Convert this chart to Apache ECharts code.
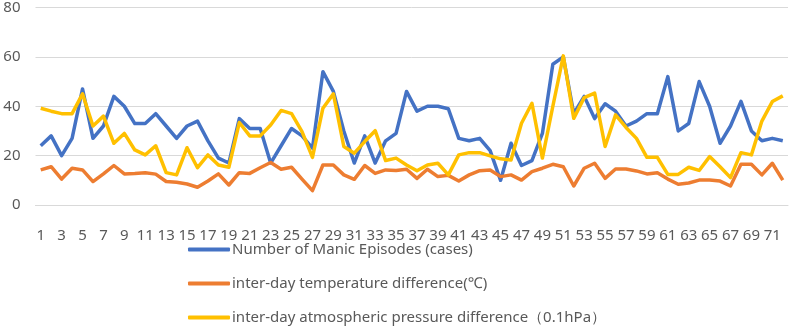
<!DOCTYPE html>
<html>
<head>
<meta charset="utf-8">
<script src="https://cdn.jsdelivr.net/npm/echarts@6/dist/echarts.min.js"></script>
<style>
  html, body { margin: 0; padding: 0; background: #fff; }
  #chart { width: 790px; height: 326px; }
</style>
</head>
<body>
<div id="chart"></div>
<script>
var days = [];
for (var d = 1; d <= 72; d++) days.push(String(d));

var manic = [24, 28, 20, 27, 47, 27, 32, 44, 40, 33, 33, 37, 32, 27, 32, 34, 26, 19, 17, 35,
  31, 31, 17, 24, 31, 28, 23, 54, 46, 30, 17, 28, 17, 26, 29, 46, 38, 40, 40, 39,
  27, 26, 27, 22, 10, 25, 16, 18, 29, 57, 60, 37, 44, 35, 41, 38, 32, 34, 37, 37,
  52, 30, 33, 50, 40, 25, 32, 42, 30, 26, 27, 26];

var tempDiff = [14.2, 15.5, 10.5, 14.9, 14.2, 9.5, 12.6, 16, 12.6, 12.8, 13.1, 12.5, 9.5, 9.2, 8.5, 7.2, 9.7, 12.6, 8.1, 13.1,
  12.8, 15.1, 17.2, 14.5, 15.3, 10.5, 5.8, 16.2, 16.2, 12.2, 10.4, 16, 12.8, 14.2, 14, 14.5, 10.8, 14.5, 11.5, 12,
  9.7, 12.2, 13.9, 14.2, 11.5, 12.2, 10.1, 13.5, 14.9, 16.5, 15.5, 7.7, 14.9, 16.9, 10.8, 14.6, 14.6, 13.8, 12.6, 13.1,
  10.5, 8.4, 8.9, 10.1, 10.1, 9.7, 7.7, 16.5, 16.5, 12.2, 16.9, 10.1];

var pressDiff = [39.2, 38, 37, 37, 45, 32, 36, 25, 29, 22.3, 20.3, 24, 13.1, 12.2, 23.2, 15.1, 20.3, 16.2, 15.3, 33.4,
  28, 28, 32.4, 38.3, 37, 29.7, 19.3, 39.2, 45, 23.7, 21, 25.7, 30.1, 18, 19, 16.2, 13.9, 16.2, 16.9, 12.2,
  20.3, 21.2, 21.2, 19.9, 18.7, 18.2, 33.1, 41.2, 19, 40, 60.4, 35.1, 43.5, 45.3, 23.7, 36.5, 31.4, 27, 19.3, 19.3,
  12.4, 12.4, 15.3, 14, 19.6, 15.5, 11.1, 21.2, 20.3, 34, 41.9, 44.2];

var names = [
  'Number of Manic Episodes (cases)',
  'inter-day temperature difference(℃)',
  'inter-day atmospheric pressure difference（0.1hPa）'
];
var colors = ['#4472C4', '#ED7D31', '#FFC000'];

var chart = echarts.init(document.getElementById('chart'));

function line(name, data, color) {
  return {
    name: name,
    type: 'line',
    data: data,
    showSymbol: false,
    symbol: 'none',
    lineStyle: { color: color, width: 3.5, join: 'round' },
    itemStyle: { color: color }
  };
}

chart.setOption({
  animation: false,
  textStyle: { fontFamily: 'Noto Sans, sans-serif' },
  grid: { left: 35.5, right: 2, top: 7.5, bottom: 121 },
  legend: {
    orient: 'vertical',
    left: 188,
    top: 242,
    padding: 0,
    itemGap: 19,
    itemWidth: 42,
    itemHeight: 4,
    icon: 'roundRect',
    textStyle: { color: '#595959', fontSize: 15, padding: [0, 0, 0, -3] },
    data: names
  },
  xAxis: {
    type: 'category',
    data: days,
    boundaryGap: true,
    axisTick: { show: false },
    axisLine: { lineStyle: { color: '#d9d9d9' } },
    axisLabel: { interval: 1, color: '#595959', fontSize: 15, margin: 23 }
  },
  yAxis: {
    type: 'value',
    min: 0,
    max: 80,
    interval: 20,
    axisLine: { show: false },
    axisTick: { show: false },
    axisLabel: { color: '#595959', fontSize: 15, margin: 15 },
    splitLine: { lineStyle: { color: '#d9d9d9', width: 1 } }
  },
  series: [
    line(names[0], manic, colors[0]),
    line(names[1], tempDiff, colors[1]),
    line(names[2], pressDiff, colors[2])
  ]
});
</script>
</body>
</html>
